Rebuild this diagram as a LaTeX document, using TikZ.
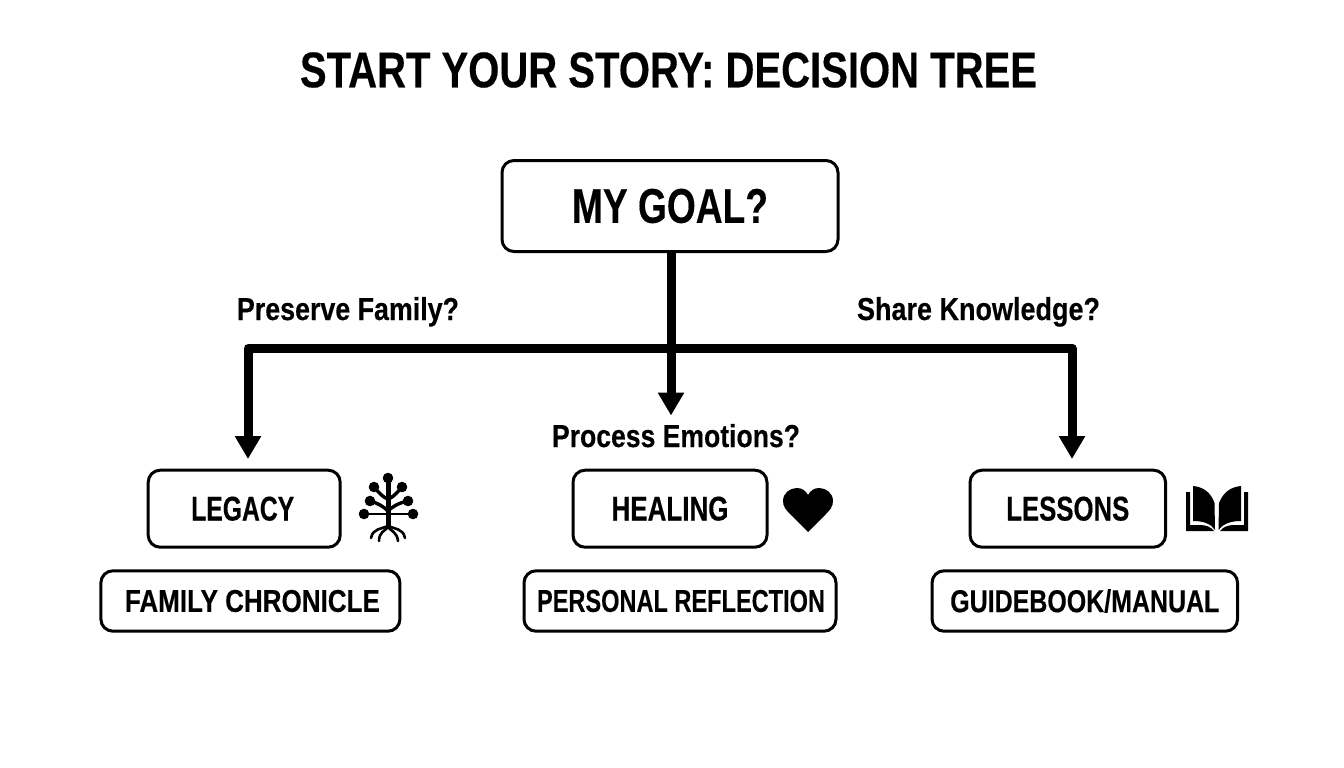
\documentclass[tikz,border=0pt]{standalone}
\usepackage{fontspec}
\usepackage{graphicx}
\setmainfont[BoldFeatures={FakeBold=0.35}]{Liberation Sans}
\usetikzlibrary{arrows.meta,calc}
\newcommand\fit[3]{\resizebox{#2pt}{#3pt}{\bfseries #1}}
\tikzset{
  x=1pt,y=-1pt,
  box/.style={draw=black,fill=white,line width=3pt,rounded corners=12pt,inner sep=0pt,outer sep=0pt,align=center},
  lab/.style={inner sep=0pt,outer sep=0pt,text=black},
  conn/.style={draw=black,line width=9pt,line join=round},
  arr/.style={conn,-{Triangle[length=23pt,width=25pt]}},
  ico/.style={fill=black,draw=none},
  twig/.style={draw=black,line width=3.4pt,line cap=round,fill=none},
  root/.style={draw=black,line width=2.6pt,line cap=round,fill=none}
}
\begin{document}
\begin{tikzpicture}
\useasboundingbox (0,0) rectangle (1344,768);
\fill[white] (0,0) rectangle (1344,768);
% title
\node[lab] (title) at (668.5,70) {\fit{START YOUR STORY: DECISION TREE}{737}{35}};
% boxes
\node[box,minimum width=336pt,minimum height=91pt] (goal) at (670,206) {\fit{MY GOAL?}{196}{34}};
\node[box,minimum width=192pt,minimum height=77pt] (legacy) at (244.2,508.7) {\fit{LEGACY}{103}{24}\hspace*{3pt}};
\node[box,minimum width=194pt,minimum height=77pt] (healing) at (670,508.7) {\fit{HEALING}{117}{24}};
\node[box,minimum width=195.5pt,minimum height=77pt] (lessons) at (1067.8,508.7) {\fit{LESSONS}{123}{24}};
\node[box,minimum width=299pt,minimum height=60.4pt] (family) at (250.4,601) {\hspace*{4pt}\fit{FAMILY CHRONICLE}{255}{22}};
\node[box,minimum width=312pt,minimum height=60.4pt] (personal) at (680,601) {\hspace*{2pt}\fit{PERSONAL REFLECTION}{288}{22}};
\node[box,minimum width=305.5pt,minimum height=60.4pt] (guide) at (1084.8,601) {\fit{GUIDEBOOK/MANUAL}{269}{23}};
% branch labels
\node[lab,anchor=base] (preserve) at (348,320) {\fit{Preserve Family?}{222}{23}};
\node[lab,anchor=base] (share) at (978.5,320) {\fit{Share Knowledge?}{243}{23}};
\node[lab,anchor=base] (process) at (676,447) {\fit{Process Emotions?}{248}{23}};
% connectors
\coordinate (junction) at (671,348);
\coordinate (leftdrop) at (248,459);
\coordinate (rightdrop) at (1072,459);
\coordinate (middrop) at (671,415.5);
\draw[conn] (goal.south -| junction) -- (junction);
\draw[arr] (junction) -- (middrop);
\draw[arr] (junction) -| (leftdrop);
\draw[arr] (junction) -| (rightdrop);
% tree icon
\draw[line width=5pt,draw=black] (388,480) -- (388,528);
\draw[draw=black,line width=2.4pt] (364,514) -- (413,514);
\draw[twig] (388,499) .. controls (384,498) and (380,494) .. (374,487);
\draw[twig] (388,499) .. controls (392,498) and (396,494) .. (402,487);
\draw[twig] (388,511) .. controls (384,507) and (378,503) .. (370,501);
\draw[twig] (388,511) .. controls (392,507) and (398,503) .. (408,501);
\foreach \p in {(388,478),(374,487),(402,487),(370,501),(408,501),(364,514),(413,514)}
  \fill[ico] \p circle (5.3pt);
\draw[root] (388,526) .. controls (382,529) and (373,528) .. (371,538);
\draw[root] (388,527) .. controls (385,531) and (379,532) .. (379,541);
\draw[root] (388,527) .. controls (391,531) and (397,532) .. (398,541);
\draw[root] (388,526) .. controls (394,529) and (403,528) .. (405,538);
% heart icon
\fill[ico] (808,532) -- (792,516)
  .. controls (786,510) and (783,507) .. (783,501)
  .. controls (783,493) and (790,488) .. (797,488)
  .. controls (802,488) and (806,491) .. (808,495)
  .. controls (810,491) and (814,488) .. (819,488)
  .. controls (826,488) and (833,493) .. (833,501)
  .. controls (833,507) and (830,510) .. (824,516) -- cycle;
% book icon
\fill[ico] (1193,486) .. controls (1204,487) and (1211,493) .. (1214.5,503)
  -- (1215,530) .. controls (1211,524) and (1204,521) .. (1193,521) -- cycle;
\fill[ico] (1241,486) .. controls (1230,487) and (1223,493) .. (1219,503)
  -- (1218.5,530) .. controls (1223,524) and (1230,521) .. (1241,521) -- cycle;
\fill[ico] (1186,492) -- (1190,492) -- (1190,525) -- (1200,525)
  .. controls (1206,525) and (1211,527) .. (1214,531) -- (1186,531) -- cycle;
\fill[ico] (1248,492) -- (1244,492) -- (1244,525) -- (1234,525)
  .. controls (1228,525) and (1223,527) .. (1220,531) -- (1248,531) -- cycle;
\end{tikzpicture}
\end{document}
